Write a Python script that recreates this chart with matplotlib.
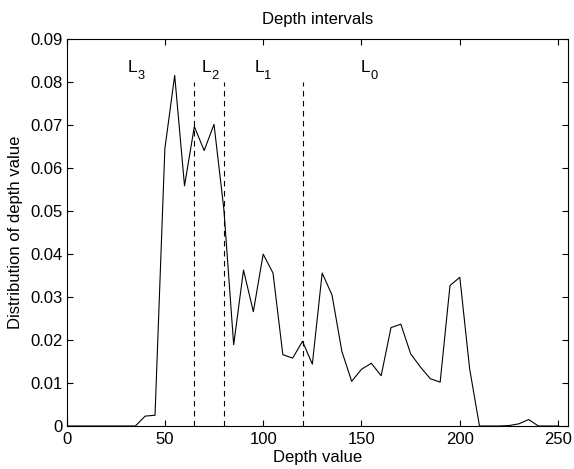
import matplotlib
matplotlib.use("Agg")
import matplotlib.pyplot as plt
import matplotlib.transforms as mtransforms
import numpy as np

depth = list(range(0, 255, 5))
dist = [0, 0, 0, 0, 0, 0, 0, 0,
        0.0023, 0.0025, 0.0645, 0.0816, 0.0559, 0.0697, 0.0641, 0.0702,
        0.0505, 0.0189, 0.0363, 0.0266, 0.0400, 0.0356, 0.0166, 0.0158,
        0.0197, 0.0144, 0.0356, 0.0305, 0.0174, 0.0104, 0.0132, 0.0146,
        0.0117, 0.0229, 0.0237, 0.0168, 0.0137, 0.0110, 0.0102, 0.0327,
        0.0346, 0.0133, 0, 0, 0, 0.0001, 0.0005, 0.0015, 0, 0, 0]
boundaries = [65, 80, 120]
boundary_top = 0.08
level_subs = ["3", "2", "1", "0"]
level_x = [31.3, 68.8, 95.4, 149.7]
level_y = 0.0825

plt.rcParams['font.family'] = ['Liberation Sans', 'DejaVu Sans']
plt.rcParams['font.size'] = 12

fig = plt.figure(figsize=(5.74, 4.69), dpi=100)
ax = fig.add_axes([0.1159, 0.0917, 0.9895 - 0.1159, 0.9162 - 0.0917])
ax.plot(depth, dist, color='black', lw=0.8)
for b in boundaries:
    ax.plot([b, b], [0, boundary_top], color='black', lw=0.8, linestyle=(0, (5, 4)))
sub_tr = mtransforms.offset_copy(ax.transData, fig=fig, x=7.0, y=-5.3, units='points')
for sub, lx in zip(level_subs, level_x):
    ax.text(lx, level_y, "L", ha='left', va='baseline', fontsize=12.5)
    ax.text(lx, level_y, sub, ha='left', va='baseline', fontsize=9.3, transform=sub_tr)

ax.set_xlim(0, 255)
ax.set_ylim(0, 0.09)
ax.set_xticks([0, 50, 100, 150, 200, 250])
ax.set_yticks(np.arange(0, 0.0901, 0.01))
ax.set_yticklabels(['0'] + ['%.2f' % v for v in np.arange(0.01, 0.0901, 0.01)])
ax.tick_params(direction='in', top=True, right=True, length=4, width=0.8, pad=3)
ax.tick_params(axis='x', pad=4)
for s in ax.spines.values():
    s.set_linewidth(0.8)
ax.set_title('Depth intervals', fontsize=12, pad=11)
ax.set_xlabel('Depth value', labelpad=2.5)
ax.set_ylabel('Distribution of depth value', labelpad=5)
fig.savefig('out.png', dpi=100)
